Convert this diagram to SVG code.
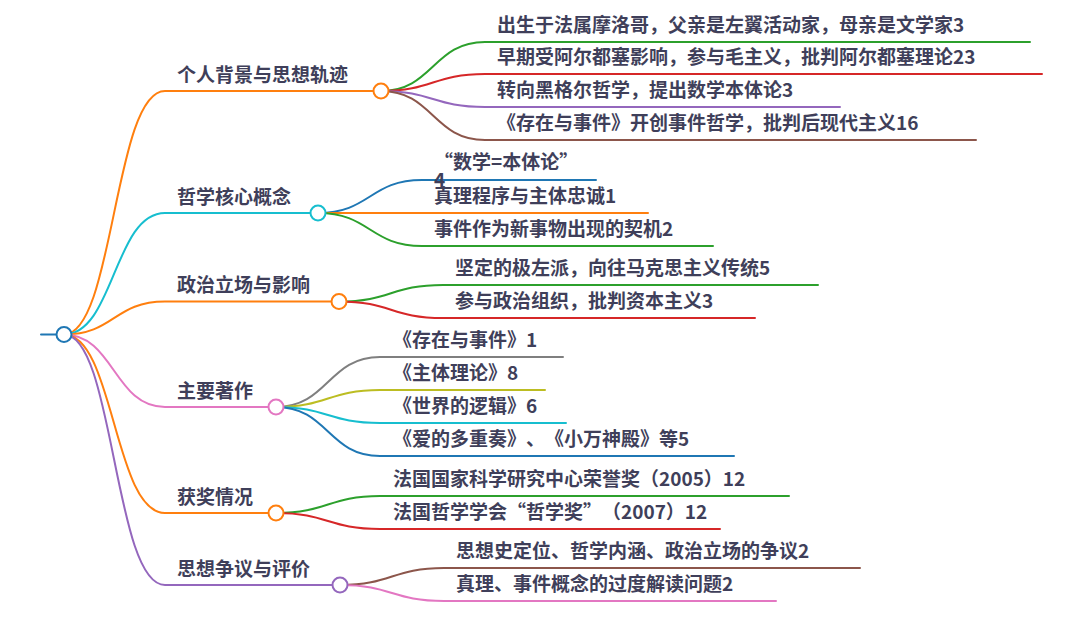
<svg xmlns="http://www.w3.org/2000/svg" width="1080" height="617" viewBox="0 0 1080 617">
<style>
  .l { fill: none; stroke-width: 2; stroke-linecap: round; }
  .t { font-family: "Noto Sans CJK SC", "Noto Sans", sans-serif; font-weight: 700; font-size: 19px; fill: #3f3f5a; text-spacing-trim: space-all; }
  .c { fill: #ffffff; stroke-width: 2; }
</style>
<rect width="1080" height="617" fill="#ffffff"/>
<g id="connectors">
  <path class="l" stroke="#1f77b4" stroke-width="2.5" d="M41,334.5 H56"/>
  <path class="l" stroke="#ff7f0e" d="M64,334.5 C114,334.5 114,91 165,91 H381"/>
  <path class="l" stroke="#17becf" d="M64,334.5 C114,334.5 114,213 165,213 H318"/>
  <path class="l" stroke="#ff7f0e" d="M64,334.5 C114,334.5 114,301.5 165,301.5 H339"/>
  <path class="l" stroke="#e377c2" d="M64,334.5 C114,334.5 114,407 165,407 H276"/>
  <path class="l" stroke="#ff7f0e" d="M64,334.5 C114,334.5 114,513 165,513 H276"/>
  <path class="l" stroke="#9467bd" d="M64,334.5 C114,334.5 114,585 165,585 H340"/>
  <path class="l" stroke="#2ca02c" d="M381,91 C433,91 433,42 485,42 H1030"/>
  <path class="l" stroke="#d62728" d="M381,91 C433,91 433,74 485,74 H1042"/>
  <path class="l" stroke="#9467bd" d="M381,91 C433,91 433,107 485,107 H840"/>
  <path class="l" stroke="#8c564b" d="M381,91 C433,91 433,140 485,140 H976"/>
  <path class="l" stroke="#1f77b4" d="M318,213 C370,213 370,180 422,180 H596"/>
  <path class="l" stroke="#ff7f0e" d="M318,213 C370,213 370,213 422,213 H648"/>
  <path class="l" stroke="#2ca02c" d="M318,213 C370,213 370,246 422,246 H713"/>
  <path class="l" stroke="#2ca02c" d="M339,301.5 C391,301.5 391,285 443,285 H818"/>
  <path class="l" stroke="#d62728" d="M339,301.5 C391,301.5 391,318 443,318 H755"/>
  <path class="l" stroke="#7f7f7f" d="M276,407 C328,407 328,357 380,357 H563"/>
  <path class="l" stroke="#bcbd22" d="M276,407 C328,407 328,390 380,390 H545"/>
  <path class="l" stroke="#17becf" d="M276,407 C328,407 328,423 380,423 H566"/>
  <path class="l" stroke="#1f77b4" d="M276,407 C328,407 328,456 380,456 H734"/>
  <path class="l" stroke="#2ca02c" d="M276,513 C328,513 328,496 380,496 H789"/>
  <path class="l" stroke="#d62728" d="M276,513 C328,513 328,529 380,529 H720"/>
  <path class="l" stroke="#8c564b" d="M340,585 C392,585 392,568 444,568 H860"/>
  <path class="l" stroke="#e377c2" d="M340,585 C392,585 392,601 444,601 H776"/>
</g>
<g id="root"><circle class="c" stroke="#1f77b4" cx="64" cy="334.5" r="7.5"/></g>
<g id="n1"><text class="t" x="177" y="82">个人背景与思想轨迹</text><circle class="c" stroke="#ff7f0e" cx="381" cy="91" r="7.5"/></g>
<g id="n1a"><text class="t" x="497" y="32">出生于法属摩洛哥，父亲是左翼活动家，母亲是文学家3</text></g>
<g id="n1b"><text class="t" x="497" y="64">早期受阿尔都塞影响，参与毛主义，批判阿尔都塞理论23</text></g>
<g id="n1c"><text class="t" x="497" y="97">转向黑格尔哲学，提出数学本体论3</text></g>
<g id="n1d"><text class="t" x="497" y="130">《存在与事件》开创事件哲学，批判后现代主义16</text></g>
<g id="n2"><text class="t" x="177" y="204">哲学核心概念</text><circle class="c" stroke="#17becf" cx="318" cy="213" r="7.5"/></g>
<g id="n2a"><text class="t" x="434" y="169">“数学=本体论”</text><text class="t" x="434" y="186.5">4</text></g>
<g id="n2b"><text class="t" x="434" y="203">真理程序与主体忠诚1</text></g>
<g id="n2c"><text class="t" x="434" y="236">事件作为新事物出现的契机2</text></g>
<g id="n3"><text class="t" x="177" y="292">政治立场与影响</text><circle class="c" stroke="#ff7f0e" cx="339" cy="301.5" r="7.5"/></g>
<g id="n3a"><text class="t" x="455" y="275">坚定的极左派，向往马克思主义传统5</text></g>
<g id="n3b"><text class="t" x="455" y="308">参与政治组织，批判资本主义3</text></g>
<g id="n4"><text class="t" x="177" y="398">主要著作</text><circle class="c" stroke="#e377c2" cx="276" cy="407" r="7.5"/></g>
<g id="n4a"><text class="t" x="393" y="347">《存在与事件》1</text></g>
<g id="n4b"><text class="t" x="393" y="380">《主体理论》8</text></g>
<g id="n4c"><text class="t" x="393" y="413">《世界的逻辑》6</text></g>
<g id="n4d"><text class="t" x="393" y="446">《爱的多重奏》、《小万神殿》等5</text></g>
<g id="n5"><text class="t" x="177" y="504">获奖情况</text><circle class="c" stroke="#ff7f0e" cx="276" cy="513" r="7.5"/></g>
<g id="n5a"><text class="t" x="393" y="486">法国国家科学研究中心荣誉奖（2005）12</text></g>
<g id="n5b"><text class="t" x="393" y="519">法国哲学学会“哲学奖”（2007）12</text></g>
<g id="n6"><text class="t" x="177" y="576">思想争议与评价</text><circle class="c" stroke="#9467bd" cx="340" cy="585" r="7.5"/></g>
<g id="n6a"><text class="t" x="456" y="558">思想史定位、哲学内涵、政治立场的争议2</text></g>
<g id="n6b"><text class="t" x="456" y="591">真理、事件概念的过度解读问题2</text></g>
</svg>
